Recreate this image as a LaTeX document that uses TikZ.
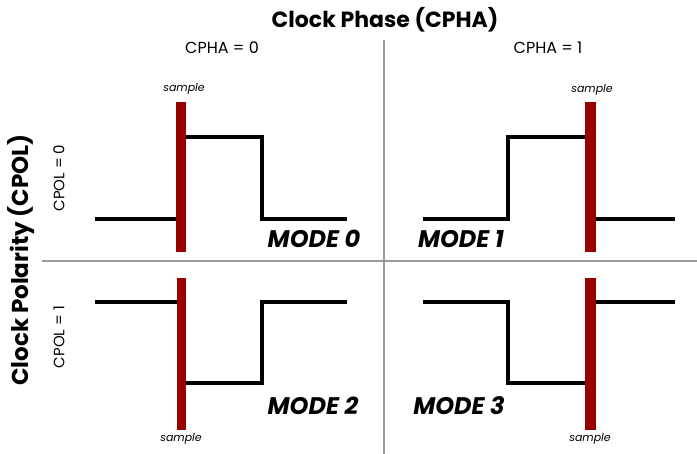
\documentclass[tikz,border=0pt]{standalone}
\usepackage{fontspec}
\setmainfont{Poppins}
\definecolor{barred}{HTML}{990000}
\definecolor{gridgray}{HTML}{9A9A9A}
\tikzset{
  sig/.style={line width=4pt, black, line join=miter},
  bar/.style={fill=barred, draw=none},
  grid/.style={line width=2.5pt, gridgray},
  modetxt/.style={font=\bfseries\itshape\fontsize{24}{24}\selectfont, inner sep=0pt},
  smalltxt/.style={font=\itshape\fontsize{11}{11}\selectfont, inner sep=0pt},
  hdr/.style={font=\fontsize{16}{16}\selectfont, inner sep=0pt},
  vhdr/.style={font=\fontsize{15}{15}\selectfont, inner sep=0pt, rotate=90},
  title/.style={font=\bfseries\fontsize{22}{22}\selectfont, inner sep=0pt}
}
\begin{document}
\begin{tikzpicture}[x=1pt,y=-1pt]
\useasboundingbox (0,0) rectangle (697,454);
% grid
\draw[grid] (384,40) -- (384,454);
\draw[grid] (42,261) -- (697,261);
% titles
\node[title] (tph) at (385,20) {Clock Phase (CPHA)};
\node[hdr] (c0) at (222,48) {CPHA = 0};
\node[hdr] (c1) at (548,48) {CPHA = 1};
\node[title, font=\bfseries\fontsize{23}{23}\selectfont, rotate=90] (tpo) at (21,260) {Clock Polarity (CPOL)};
\node[vhdr] (p0) at (59,178) {CPOL = 0};
\node[vhdr] (p1) at (59,337) {CPOL = 1};
% mode 0
\draw[sig] (95,219) -- (181,219);
\draw[sig] (181,137) -- (262,137) -- (262,219) -- (347,219);
\fill[bar] (176,102) rectangle (186,252);
\node[smalltxt] (s0) at (184,89) {sample};
\node[modetxt] (m0) at (314,239) {MODE 0};
% mode 1
\draw[sig] (423,219) -- (508,219) -- (508,137) -- (590,137);
\draw[sig] (590,219) -- (675,219);
\fill[bar] (585,102) rectangle (596,252);
\node[smalltxt] (s1) at (592,90) {sample};
\node[modetxt] (m1) at (461,239) {MODE 1};
% mode 2
\draw[sig] (95,302) -- (181,302);
\draw[sig] (181,383) -- (262,383) -- (262,302) -- (347,302);
\fill[bar] (177,278) rectangle (186,430);
\node[smalltxt] (s2) at (181,439) {sample};
\node[modetxt] (m2) at (313,406) {MODE 2};
% mode 3
\draw[sig] (423,302) -- (508,302) -- (508,383) -- (590,383);
\draw[sig] (590,302) -- (675,302);
\fill[bar] (585,278) rectangle (596,430);
\node[smalltxt] (s3) at (590,439) {sample};
\node[modetxt] (m3) at (459,406) {MODE 3};
\end{tikzpicture}
\end{document}
